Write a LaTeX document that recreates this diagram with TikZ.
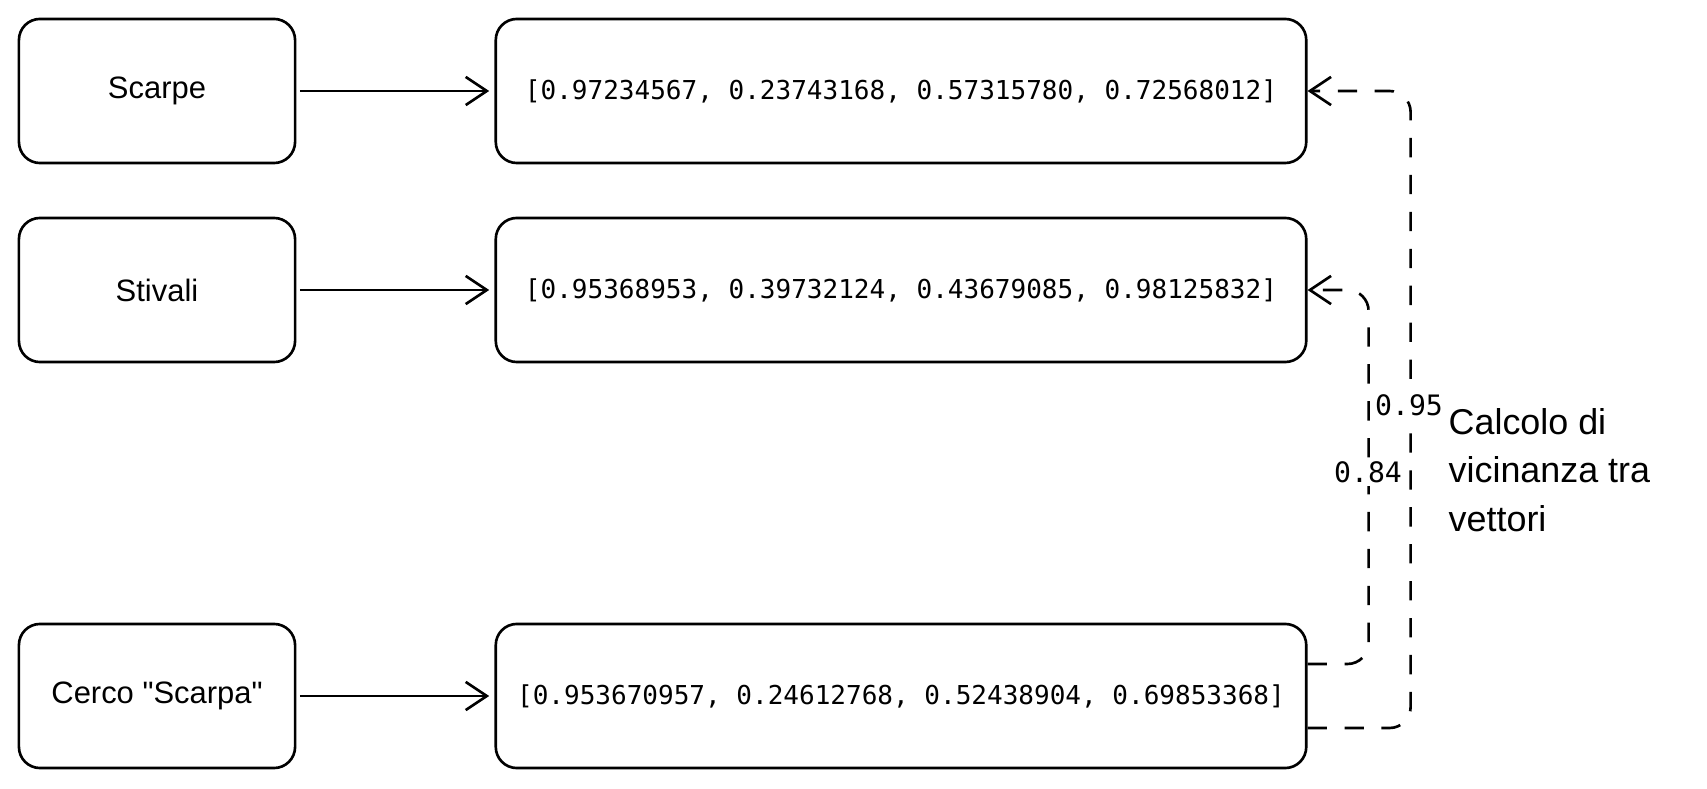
\documentclass[tikz,border=0pt]{standalone}
\usepackage{fontspec}
\setmainfont{Liberation Sans}[Ligatures=TeXOff]
\newfontfamily\vecfont{DejaVu Sans Mono}
\usetikzlibrary{arrows.meta,positioning}

\begin{document}
\begin{tikzpicture}[x=0.01cm,y=-0.01cm,
  box/.style={draw,line width=0.75pt,rounded corners=6pt,minimum height=1.44cm},
  word/.style={box,minimum width=2.76cm,font=\fontsize{8.8}{10}\selectfont},
  vec/.style={box,minimum width=8.1cm,font=\vecfont\fontsize{7.4}{9}\selectfont},
  link/.style={line width=0.75pt,-{Straight Barb[length=6pt,width=8pt]}},
  near/.style={link,dash pattern=on 5.5pt off 5pt,rounded corners=6pt},
  score/.style={fill=white,inner sep=1pt,font=\vecfont\fontsize{8}{9}\selectfont}]
\useasboundingbox (0,0) rectangle (1707,789);
% parole
\node[word] (scarpe) at (157,91) {Scarpe};
\node[word] (stivali) at (157,290) {Stivali};
\node[word] (cerco) at (157,696) {Cerco "Scarpa"};
% vettori
\node[vec] (vscarpe) at (901,91) {[0.97234567, 0.23743168, 0.57315780, 0.72568012]};
\node[vec] (vstivali) at (901,290) {[0.95368953, 0.39732124, 0.43679085, 0.98125832]};
\node[vec] (vcerco) at (901,696) {[0.953670957, 0.24612768, 0.52438904, 0.69853368]};
\foreach \a/\b in {scarpe/vscarpe,stivali/vstivali,cerco/vcerco}
  \draw[link,shorten <=1pt,shorten >=1.5pt] (\a) -- (\b);
% confronto
\draw[near] ([yshift=-0.32cm]vcerco.east) -| ([xshift=1.03cm]vscarpe.east) -- (vscarpe.east);
\draw[near] ([yshift=0.32cm]vcerco.east) -| ([xshift=0.61cm]vstivali.east) -- (vstivali.east);
\node[score] (s1) at (1409,405) {0.95};
\node[score] (s2) at (1368,472) {0.84};
\node[anchor=west,align=left,inner sep=0pt,font=\fontsize{10.2}{13.8}\selectfont] (calc) at (1448,470) {Calcolo di\\vicinanza tra\\vettori};
\end{tikzpicture}
\end{document}
